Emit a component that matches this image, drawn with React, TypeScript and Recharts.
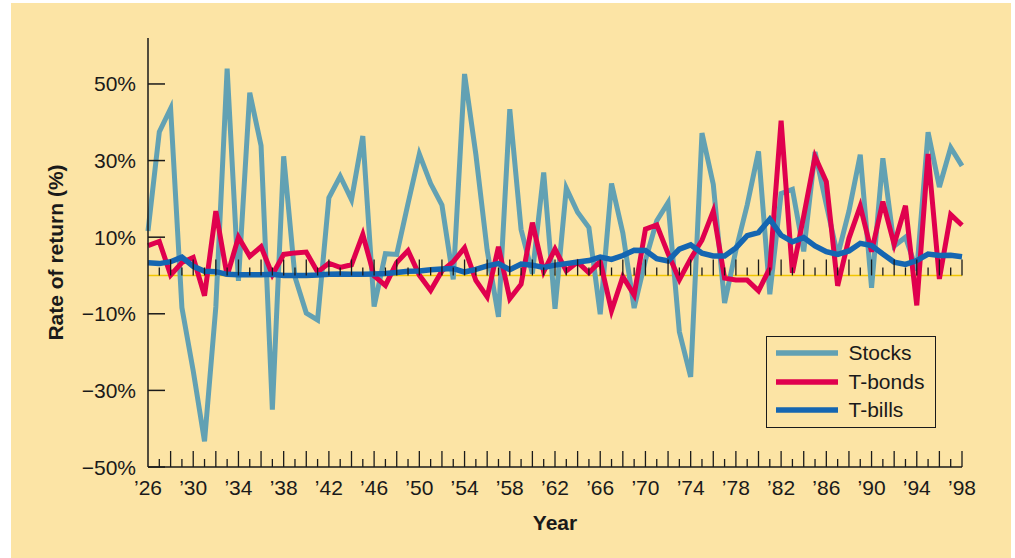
import React from 'react';
import { LineChart, Line, XAxis, YAxis, ReferenceLine, ReferenceDot, Legend, Label } from 'recharts';

const years = [
  1926, 1927, 1928, 1929, 1930, 1931, 1932, 1933, 1934, 1935,
  1936, 1937, 1938, 1939, 1940, 1941, 1942, 1943, 1944, 1945,
  1946, 1947, 1948, 1949, 1950, 1951, 1952, 1953, 1954, 1955,
  1956, 1957, 1958, 1959, 1960, 1961, 1962, 1963, 1964, 1965,
  1966, 1967, 1968, 1969, 1970, 1971, 1972, 1973, 1974, 1975,
  1976, 1977, 1978, 1979, 1980, 1981, 1982, 1983, 1984, 1985,
  1986, 1987, 1988, 1989, 1990, 1991, 1992, 1993, 1994, 1995,
  1996, 1997, 1998,
];

const stocks = [
  11.6, 37.5, 43.6, -8.4, -24.9, -43.3, -8.2, 54.0, -1.4, 47.7,
  33.9, -35.0, 31.1, -0.4, -9.8, -11.6, 20.3, 25.9, 19.8, 36.4,
  -8.1, 5.7, 5.5, 18.8, 31.7, 24.0, 18.4, -1.0, 52.6, 31.6,
  6.6, -10.8, 43.4, 12.0, 0.5, 26.9, -8.7, 22.8, 16.5, 12.5,
  -10.1, 24.0, 11.1, -8.5, 4.0, 14.3, 19.0, -14.7, -26.5, 37.2,
  23.8, -7.2, 6.6, 18.4, 32.4, -4.9, 21.4, 22.5, 6.3, 32.2,
  18.5, 5.2, 16.8, 31.5, -3.2, 30.6, 7.7, 10.0, 1.3, 37.4,
  23.1, 33.4, 28.6,
];

const tbonds = [
  7.8, 8.9, 0.1, 3.4, 4.7, -5.3, 16.8, -0.1, 10.0, 5.0,
  7.5, 0.2, 5.5, 5.9, 6.1, 0.9, 3.2, 2.1, 2.8, 10.7,
  -0.1, -2.6, 3.4, 6.5, 0.1, -3.9, 1.2, 3.6, 7.2, -1.3,
  -5.6, 7.5, -6.1, -2.3, 13.8, 1.0, 6.9, 1.2, 3.5, 0.7,
  3.7, -9.2, -0.3, -5.1, 12.1, 13.2, 5.7, -1.1, 4.4, 9.2,
  16.8, -0.7, -1.2, -1.2, -4.0, 1.9, 40.4, 0.7, 15.5, 31.0,
  24.5, -2.7, 9.7, 18.1, 6.2, 19.3, 8.1, 18.2, -7.8, 31.7,
  -0.9, 15.9, 13.1,
];

const tbills = [
  3.3, 3.1, 3.6, 4.8, 2.4, 1.1, 1.0, 0.3, 0.2, 0.2,
  0.2, 0.3, 0.0, 0.0, 0.0, 0.1, 0.3, 0.4, 0.3, 0.3,
  0.4, 0.5, 0.8, 1.1, 1.2, 1.5, 1.7, 1.8, 0.9, 1.6,
  2.5, 3.1, 1.5, 3.0, 2.7, 2.1, 2.7, 3.1, 3.5, 3.9,
  4.8, 4.2, 5.2, 6.6, 6.5, 4.4, 3.8, 6.9, 8.0, 5.8,
  5.1, 5.1, 7.2, 10.4, 11.2, 14.7, 10.5, 8.8, 9.9, 7.7,
  6.2, 5.5, 6.4, 8.4, 7.8, 5.6, 3.5, 2.9, 3.9, 5.6,
  5.2, 5.3, 4.9,
];

const yTicks = [-50, -30, -10, 10, 30, 50];
const seriesNames = ['Stocks', 'T-bonds', 'T-bills'];

const data = years.map((year, i) => ({
  year,
  stocks: stocks[i],
  tbonds: tbonds[i],
  tbills: tbills[i],
}));

const INK = '#1a1a1a';
const FONT = '"Liberation Sans", Arial, sans-serif';
const C_STOCKS = '#62A1B3';
const C_BONDS = '#E0004E';
const C_BILLS = '#1566B1';

const XTick = (props: any) => {
  const { x, y, payload } = props;
  const yr = payload.value as number;
  const len = yr % 2 === 0 ? 16 : 8;
  const showLabel = (yr - 1926) % 4 === 0;
  return (
    <g>
      {yr !== 1926 && (
        <line x1={x} x2={x} y1={y} y2={y - len} stroke={INK} strokeWidth={1.3} />
      )}
      {showLabel && (
        <text x={x} y={y + 28} textAnchor="middle" fontSize={21} fill={INK} fontFamily={FONT}>
          {'\u2019' + String(yr).slice(2)}
        </text>
      )}
    </g>
  );
};

const YTick = (props: any) => {
  const { x, y, payload } = props;
  const v = payload.value as number;
  const label = v < 0 ? `\u2212${-v}%` : `${v}%`;
  return (
    <g>
      <line x1={x} x2={x + 17} y1={y} y2={y} stroke={INK} strokeWidth={1.5} />
      <text x={x - 12} y={y + 7.5} textAnchor="end" fontSize={21} fill={INK} fontFamily={FONT}>
        {label}
      </text>
    </g>
  );
};

const YLabel = (props: any) => {
  const vb = props.viewBox || {};
  const cx = (vb.x || 0) + 63;
  const cy = (vb.y || 0) + (vb.height || 0) / 2;
  return (
    <text
      x={cx}
      y={cy}
      transform={`rotate(-90, ${cx}, ${cy})`}
      textAnchor="middle"
      fontSize={21}
      fontWeight="bold"
      fill={INK}
      fontFamily={FONT}
    >
      Rate of return (%)
    </text>
  );
};

const XLabel = (props: any) => {
  const vb = props.viewBox || {};
  const cx = (vb.x || 0) + (vb.width || 0) / 2;
  const cy = (vb.y || 0) + 63;
  return (
    <text x={cx} y={cy} textAnchor="middle" fontSize={21} fontWeight="bold" fill={INK} fontFamily={FONT}>
      Year
    </text>
  );
};

const renderLegend = (props: any) => {
  const payload = [...(props.payload || [])].sort(
    (a: any, b: any) => seriesNames.indexOf(a.value) - seriesNames.indexOf(b.value)
  );
  return (
    <div
      style={{
        width: 170,
        height: 92,
        border: `1.5px solid ${INK}`,
        boxSizing: 'border-box',
        paddingTop: 2,
        fontFamily: FONT,
      }}
    >
      {payload.map((e: any) => (
        <div key={e.value} style={{ height: 28.5, display: 'flex', alignItems: 'center' }}>
          <svg width={62} height={8} style={{ display: 'block', marginLeft: 8.5, marginRight: 11 }}>
            <line x1={0} x2={62} y1={4} y2={4} stroke={e.color} strokeWidth={5.5} />
          </svg>
          <span style={{ fontSize: 21, color: INK, lineHeight: '24px' }}>{e.value}</span>
        </div>
      ))}
    </div>
  );
};

const tickShape = (yr: number) => (p: any) => (
  <line
    x1={p.cx}
    x2={p.cx}
    y1={p.cy}
    y2={p.cy - (yr % 2 === 0 ? 16 : 8)}
    stroke={INK}
    strokeWidth={1.3}
  />
);

export default function App() {
  return (
    <div style={{ position: 'absolute', left: 0, top: 0, width: 1015, height: 558, background: '#ffffff', fontFamily: FONT }}>
      <div style={{ position: 'absolute', left: 11, top: 3, width: 1000, height: 555, background: '#FCE4A5' }} />
      <div style={{ position: 'absolute', left: 0, top: 0 }}>
        <LineChart width={1015} height={558} data={data} margin={{ top: 38, right: 53, left: 0, bottom: 0 }}>
          <XAxis
            dataKey="year"
            type="number"
            domain={[1926, 1998]}
            ticks={years}
            interval={0}
            tickSize={0}
            tickMargin={0}
            tickLine={false}
            tick={<XTick />}
            height={91}
            axisLine={{ stroke: INK, strokeWidth: 1.5 }}
          >
            <Label content={<XLabel />} />
          </XAxis>
          <YAxis
            type="number"
            domain={[-50, 62]}
            ticks={yTicks}
            interval={0}
            tickSize={0}
            tickMargin={0}
            tickLine={false}
            tick={<YTick />}
            width={148}
            axisLine={{ stroke: INK, strokeWidth: 1.5 }}
          >
            <Label content={<YLabel />} />
          </YAxis>
          <ReferenceLine y={0} stroke="#F2C500" strokeWidth={1.5} />
          <Line
            dataKey="stocks"
            name={seriesNames[0]}
            stroke={C_STOCKS}
            strokeWidth={5}
            dot={false}
            activeDot={false}
            isAnimationActive={false}
          />
          <Line
            dataKey="tbonds"
            name={seriesNames[1]}
            stroke={C_BONDS}
            strokeWidth={5}
            dot={false}
            activeDot={false}
            isAnimationActive={false}
          />
          <Line
            dataKey="tbills"
            name={seriesNames[2]}
            stroke={C_BILLS}
            strokeWidth={5.5}
            dot={false}
            activeDot={false}
            isAnimationActive={false}
          />
          {years
            .filter((yr) => yr !== 1926)
            .map((yr) => (
              <ReferenceDot key={yr} x={yr} y={0} r={0} shape={tickShape(yr)} />
            ))}
          <Legend
            layout="vertical"
            align="center"
            verticalAlign="middle"
            content={renderLegend}
            wrapperStyle={{ position: 'absolute', left: 766, top: 336, width: 170, height: 92 }}
          />
        </LineChart>
      </div>
    </div>
  );
}
